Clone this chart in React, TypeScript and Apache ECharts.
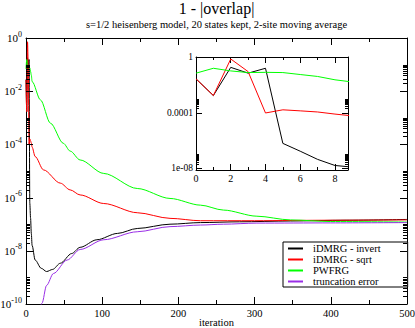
import React, { useEffect, useRef } from 'react';
import * as echarts from 'echarts';

// Main plot: [iteration, 1 - |overlap|]
const invertMain: [number, number][] = [
  [0, 2.7e-2], [1, 1.7e-3], [2, 0.18], [3, 6.9e-2], [4, 0.155], [5, 6.2e-7], [6, 1.7e-7],
  [7, 4.4e-8], [8, 1.6e-8], [12, 4.5e-9], [20, 2.2e-9], [27, 1.66e-9], [35, 2.0e-9],
  [45, 3.4e-9], [60, 7.9e-9], [71, 1.35e-8], [93, 2.6e-8], [120, 4.5e-8], [146, 6.9e-8],
  [189, 1.0e-7], [229, 1.15e-7], [280, 1.23e-7], [347, 1.32e-7], [420, 1.41e-7], [500, 1.51e-7],
];
const sqrtMain: [number, number][] = [
  [0, 2.7e-2], [1, 1.7e-3], [2, 0.72], [3, 8.9e-2], [4, 9.5e-5], [5, 1.6e-4], [6, 1.35e-4],
  [7, 1.12e-4], [8, 7.9e-5], [12, 3.5e-5], [23, 1.1e-5], [45, 3.5e-6], [58, 1.95e-6],
  [71, 1.26e-6], [102, 6.0e-7], [146, 2.7e-7], [189, 1.66e-7], [229, 1.35e-7], [300, 1.35e-7],
  [400, 1.41e-7], [500, 1.45e-7],
];
const pwfrgMain: [number, number][] = [
  [0, 6.9e-2], [1, 0.155], [2, 0.1], [3, 7.6e-2], [4, 7.9e-2], [5, 7.6e-2], [6, 5.5e-2],
  [7, 4.0e-2], [8, 2.3e-2], [19, 4.7e-3], [32, 6.3e-4], [49, 1.1e-4],
  [58, 5.6e-5], [71, 2.6e-5], [102, 8.1e-6], [146, 2.2e-6], [189, 9.3e-7], [229, 5.2e-7],
  [259, 3.4e-7], [303, 2.0e-7], [347, 1.45e-7], [400, 1.26e-7], [500, 1.2e-7],
];
const truncMain: [number, number][] = [
  [18, 6.3e-11], [21, 1.07e-10], [27, 5.0e-10], [36, 1.4e-9], [54, 4.5e-9], [71, 1.12e-8],
  [102, 2.6e-8], [146, 5.2e-8], [189, 8.1e-8], [229, 9.3e-8], [259, 1.0e-7], [303, 1.1e-7],
  [400, 1.12e-7], [500, 1.15e-7],
];

// Inset: first iterations
const insetSteps = [0, 1, 2, 3, 4, 5, 6, 7, 8, 9];
const insetInvert = [2.7e-2, 1.7e-3, 0.18, 6.9e-2, 0.155, 6.2e-7, 1.7e-7, 4.4e-8, 1.6e-8, 1.23e-8];
const insetSqrt = [2.7e-2, 1.7e-3, 0.72, 8.9e-2, 9.5e-5, 1.6e-4, 1.35e-4, 1.12e-4, 7.9e-5, 5.9e-5];
const insetPwfrg = [6.9e-2, 0.155, 0.1, 7.6e-2, 7.9e-2, 7.6e-2, 5.5e-2, 4.0e-2, 2.3e-2, 1.6e-2];

const seriesNames = ['iDMRG - invert', 'iDMRG - sqrt', 'PWFRG', 'truncation error'];
const seriesColors = ['#000000', '#ff0000', '#00ff00', '#9a2ee6'];

// Log-axis tick marks (major decades and the minor 2..10 × decade clusters)
const mainMajorDecades = [0, -2, -4, -6, -8, -10];
const mainMinorDecades = [-2, -4, -6, -8, -10];
const insetMajorDecades = [0, -4, -8];
const insetMinorDecades = [-4, -8];
const minorMultipliers = [2, 3, 4, 5, 6, 7, 8, 9, 10];
const insetTickLabels: Record<string, string> = { '0': '1', '-4': '0.0001', '-8': '1e-08' };

const FONT = 'Liberation Serif';

export default function App() {
  const ref = useRef<HTMLDivElement>(null);
  useEffect(() => {
    if (!ref.current) return;
    const chart = echarts.init(ref.current, undefined, { renderer: 'svg' });
    const axisLine = { show: true, onZero: false, lineStyle: { color: '#000', width: 1 } };
    const mainX = {
      type: 'value', min: 0, max: 500, interval: 100, gridIndex: 0,
      axisLine, splitLine: { show: false },
      axisTick: { show: true, inside: true, length: 7, lineStyle: { color: '#000' } },
      minorTick: { show: true, splitNumber: 2, length: 4, lineStyle: { color: '#000' } },
    };
    const mainY = {
      type: 'log', logBase: 10, min: Math.pow(10, -9.99999), max: 1, splitNumber: 5, gridIndex: 0,
      axisLine, splitLine: { show: false }, minorSplitLine: { show: false },
      axisTick: { show: false }, minorTick: { show: false },
    };
    const insetX = {
      type: 'value', min: 0, max: 8.75, interval: 2, gridIndex: 1,
      axisLine, splitLine: { show: false },
      axisTick: { show: true, inside: true, length: 6, lineStyle: { color: '#000' } },
      minorTick: { show: true, splitNumber: 2, length: 3, lineStyle: { color: '#000' } },
    };
    const insetY = {
      type: 'log', logBase: 10, min: Math.pow(10, -8.12), max: 1, splitNumber: 8, gridIndex: 1,
      axisLine, splitLine: { show: false }, minorSplitLine: { show: false },
      axisTick: { show: false }, minorTick: { show: false },
    };
    const lineSeries = (name: string, data: any, color: string, xi: number, yi: number) => ({
      name, type: 'line', data, xAxisIndex: xi, yAxisIndex: yi, symbol: 'none', showSymbol: false,
      smooth: xi === 0 ? 0.3 : false, smoothMonotone: 'x',
      lineStyle: { color, width: 1 }, itemStyle: { color }, emphasis: { disabled: true },
    });
    // custom series drawing tick marks on both vertical edges of a grid
    const tickSeries = (ticks: [number, number, number][], xi: number, yi: number, xMin: number, xMax: number) => ({
      type: 'custom', xAxisIndex: xi, yAxisIndex: yi, silent: true, clip: false, z: 5,
      encode: { x: 0, y: 1 },
      data: ticks,
      renderItem: (_p: any, api: any) => {
        const v = api.value(1);
        const len = api.value(2);
        const l = api.coord([xMin, v]);
        const r = api.coord([xMax, v]);
        const y = Math.round(l[1]) + 0.5;
        return {
          type: 'group',
          children: [
            { type: 'line', shape: { x1: l[0], y1: y, x2: l[0] + len, y2: y }, style: { stroke: '#000', lineWidth: 1 } },
            { type: 'line', shape: { x1: r[0] - len, y1: y, x2: r[0], y2: y }, style: { stroke: '#000', lineWidth: 1 } },
          ],
        };
      },
    });
    const buildTicks = (major: number[], minor: number[], majLen: number, minLen: number): [number, number, number][] => [
      ...major.map((e) => [0, Math.pow(10, e), majLen] as [number, number, number]),
      ...minor.flatMap((e) => minorMultipliers.map((m) => [0, m * Math.pow(10, e), minLen] as [number, number, number])),
    ];
    const mainData = [invertMain, sqrtMain, pwfrgMain, truncMain];
    const insetData = [insetInvert, insetSqrt, insetPwfrg];
    chart.setOption({
      animation: false,
      backgroundColor: '#fff',
      title: [
        { text: '1 - |overlap|', left: 216.5, top: 0, textAlign: 'center', padding: 0,
          textStyle: { fontFamily: FONT, fontSize: 16, fontWeight: 'normal', color: '#000' } },
        { text: 's=1/2 heisenberg model, 20 states kept, 2-site moving average', left: 216.5, top: 19,
          textAlign: 'center', padding: 0,
          textStyle: { fontFamily: FONT, fontSize: 10.5, fontWeight: 'normal', color: '#000' } },
      ],
      grid: [
        { left: 26, top: 38, width: 381, height: 266, outerBoundsMode: 'none', containLabel: false },
        { left: 196, top: 57, width: 152, height: 113, outerBoundsMode: 'none', containLabel: false },
      ],
      legend: {
        data: seriesNames, orient: 'vertical', left: 283, top: 242,
        borderColor: '#000', borderWidth: 1, backgroundColor: '#fff',
        padding: [1, 27, 0, 4], itemWidth: 15, itemHeight: 10, itemGap: 0,
        selectedMode: false, itemStyle: { opacity: 0 },
        textStyle: { fontFamily: FONT, fontSize: 10.5, color: '#000', lineHeight: 10, padding: [0, 0, 0, 5] },
      },
      xAxis: [
        { ...mainX, position: 'bottom',
          axisLabel: { show: true, fontFamily: FONT, fontSize: 10.5, color: '#000', margin: 4 },
          name: 'iteration', nameLocation: 'middle', nameGap: 13, nameMoveOverlap: false,
          nameTextStyle: { fontFamily: FONT, fontSize: 10.5, color: '#000', verticalAlign: 'top' } },
        { ...mainX, position: 'top', axisLabel: { show: false } },
        { ...insetX, position: 'bottom',
          axisLabel: { show: true, fontFamily: FONT, fontSize: 10, color: '#000', margin: 3,
            formatter: (v: number) => (Math.abs(v - Math.round(v)) < 1e-9 && Math.round(v) % 2 === 0 ? String(Math.round(v)) : '') } },
        { ...insetX, position: 'top', axisLabel: { show: false } },
      ],
      yAxis: [
        { ...mainY, position: 'left',
          axisLabel: { show: true, margin: 4, color: '#000',
            formatter: (v: number) => {
              const e = Math.round(Math.log10(v));
              if (e % 2 !== 0) return '';
              return `{b|10}{s|${e}}`;
            },
            rich: {
              b: { fontFamily: FONT, fontSize: 11, lineHeight: 16, color: '#000' },
              s: { fontFamily: FONT, fontSize: 8, lineHeight: 9, verticalAlign: 'top', color: '#000' },
            } } },
        { ...mainY, position: 'right', axisLabel: { show: false } },
        { ...insetY, position: 'left',
          axisLabel: { show: true, fontFamily: FONT, fontSize: 9.5, color: '#000', margin: 3,
            formatter: (v: number) => {
              const l = Math.log10(v);
              const e = Math.round(l);
              if (Math.abs(l - e) > 1e-6) return '';
              return insetTickLabels[String(e)] ?? '';
            } } },
        { ...insetY, position: 'right', axisLabel: { show: false } },
      ],
      series: [
        ...mainData.map((d, i) => lineSeries(seriesNames[i], d, seriesColors[i], 0, 0)),
        ...insetData.map((d, i) => lineSeries(seriesNames[i] + ' (inset)',
          insetSteps.map((s, k) => [s, d[k]]), seriesColors[i], 2, 2)),
        tickSeries(buildTicks(mainMajorDecades, mainMinorDecades, 7, 4), 0, 0, 0, 500),
        tickSeries(buildTicks(insetMajorDecades, insetMinorDecades, 6, 3), 2, 2, 0, 8.75),
      ],
    });
    return () => chart.dispose();
  }, []);
  return <div ref={ref} style={{ position: 'fixed', left: 0, top: 0, width: 415, height: 328 }} />;
}
